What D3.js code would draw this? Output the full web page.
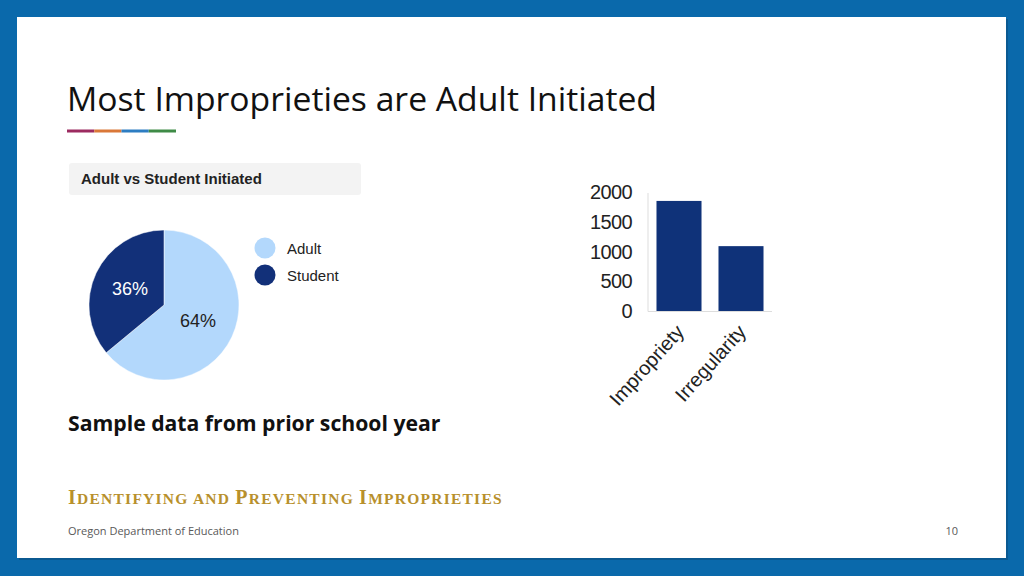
<!DOCTYPE html>
<html><head><meta charset="utf-8">
<script src="https://cdn.jsdelivr.net/npm/d3@7"></script>
<style>html,body{margin:0;padding:0;background:#0a69ab;}svg{display:block;}</style>
</head><body>
<svg id="c" width="1024" height="576"></svg>
<script>
const pieLabels = ["Adult", "Student"];
const pieValues = [64, 36];
const barCategories = ["Impropriety", "Irregularity"];
const barValues = [1850, 1090];
const yTicks = [0, 500, 1000, 1500, 2000];
const accentColors = ["#9c2b60", "#da7838", "#2d7dc2", "#3f8b47"];

const svg = d3.select("#c");
svg.append("rect").attr("width",1024).attr("height",576).attr("fill","#0a69ab");
svg.append("rect").attr("x",19).attr("y",19).attr("width",989).attr("height",541).attr("fill","#0b4f80").attr("opacity",0.6);
svg.append("rect").attr("x",17).attr("y",17).attr("width",989).attr("height",541).attr("fill","#ffffff");

svg.append("text").attr("x",67).attr("y",111).attr("font-family","Open Sans").attr("font-size",33.7).attr("fill","#111").text("Most Improprieties are Adult Initiated");

const ax = d3.scaleBand().domain(d3.range(accentColors.length)).range([67,176]);
svg.selectAll("rect.acc").data(accentColors).join("rect").attr("class","acc")
  .attr("x",(d,i)=>ax(i)).attr("y",129.5).attr("width",ax.bandwidth()).attr("height",3).attr("fill",d=>d);

// pie header
svg.append("rect").attr("x",69).attr("y",163).attr("width",292).attr("height",32).attr("rx",3).attr("fill","#f3f3f3");
svg.append("text").attr("x",81).attr("y",184).attr("font-family","Liberation Sans, Arial").attr("font-weight","bold").attr("font-size",15).attr("fill","#222").text("Adult vs Student Initiated");

const pieColors = d3.scaleOrdinal().domain(pieLabels).range(["#b3d8fc","#123079"]);
const pieData = pieLabels.map((l,i)=>({label:l,value:pieValues[i]}));
const pie = d3.pie().value(d=>d.value).sort(null);
const arcs = pie(pieData);
const arc = d3.arc().innerRadius(0).outerRadius(75);
const pg = svg.append("g").attr("transform","translate(164,305)");
pg.selectAll("path").data(arcs).join("path").attr("d",arc).attr("fill",d=>pieColors(d.data.label)).attr("stroke","#fff").attr("stroke-width",0.5);
pg.selectAll("text").data(arcs).join("text")
  .attr("x",d=>arc.centroid(d)[0])
  .attr("y",d=>arc.centroid(d)[1])
  .attr("text-anchor","middle").attr("dy","0.35em")
  .attr("font-family","Liberation Sans, Arial").attr("font-size",18)
  .attr("fill",(d,i)=>i===0?"#222":"#fff").text(d=>d.data.value+"%");

const lg = svg.append("g");
pieLabels.forEach((l,i)=>{
  lg.append("circle").attr("cx",265).attr("cy",248+i*27).attr("r",10.5).attr("fill",pieColors(l));
  lg.append("text").attr("x",287).attr("y",254+i*27).attr("font-family","Liberation Sans, Arial").attr("font-size",15).attr("fill","#222").text(l);
});

// bar chart
const x = d3.scaleBand().domain(barCategories).range([648,772]).paddingInner(0.274).paddingOuter(0.137);
const y = d3.scaleLinear().domain([0,2000]).range([311,192]);
const bg = svg.append("g");
bg.selectAll("rect").data(barCategories).join("rect")
  .attr("x",d=>x(d)).attr("y",(d,i)=>y(barValues[i])).attr("width",x.bandwidth())
  .attr("height",(d,i)=>y(0)-y(barValues[i])).attr("fill","#0f3279");
bg.append("line").attr("x1",648).attr("x2",648).attr("y1",193).attr("y2",311.5).attr("stroke","#ddd");
bg.append("line").attr("x1",648).attr("x2",772).attr("y1",311.5).attr("y2",311.5).attr("stroke","#ddd");
bg.selectAll("text.yt").data(yTicks).join("text").attr("class","yt")
  .attr("x",632).attr("y",d=>y(d)).attr("dy","0.36em").attr("text-anchor","end")
  .attr("font-family","Liberation Sans, Arial").attr("font-size",20).attr("letter-spacing",-0.6).attr("fill","#222").text(d=>d);
bg.selectAll("text.xt").data(barCategories).join("text").attr("class","xt")
  .attr("transform",d=>`translate(${x(d)+x.bandwidth()/2+1},${328}) rotate(-48)`)
  .attr("text-anchor","end").attr("dy","0.35em")
  .attr("font-family","Liberation Sans, Arial").attr("font-size",20).attr("fill","#222").text(d=>d);

svg.append("text").attr("x",68).attr("y",431).attr("font-family","Open Sans").attr("font-weight","bold").attr("font-size",21.2).attr("fill","#111").text("Sample data from prior school year");

// footer small caps
const ft = svg.append("text").attr("x",68).attr("y",504).attr("font-family","Liberation Serif, DejaVu Serif, serif").attr("font-weight","bold").attr("letter-spacing",1.25).attr("fill","#b8902c");
const words = ["Identifying","and","Preventing","Improprieties"];
words.forEach((w,i)=>{
  const first = (i===1)? "" : w[0];
  const rest = (i===1)? w : w.slice(1);
  if(i>0) ft.append("tspan").attr("font-size",15.5).text(" ");
  if(first) ft.append("tspan").attr("font-size",20).text(first.toUpperCase());
  ft.append("tspan").attr("font-size",15.5).text(rest.toUpperCase());
});

svg.append("text").attr("x",68).attr("y",535).attr("font-family","Open Sans").attr("font-size",11).attr("fill","#595959").text("Oregon Department of Education");
svg.append("text").attr("x",958).attr("y",535).attr("text-anchor","end").attr("font-family","Open Sans").attr("font-size",11).attr("fill","#595959").text("10");
</script>
</body></html>
